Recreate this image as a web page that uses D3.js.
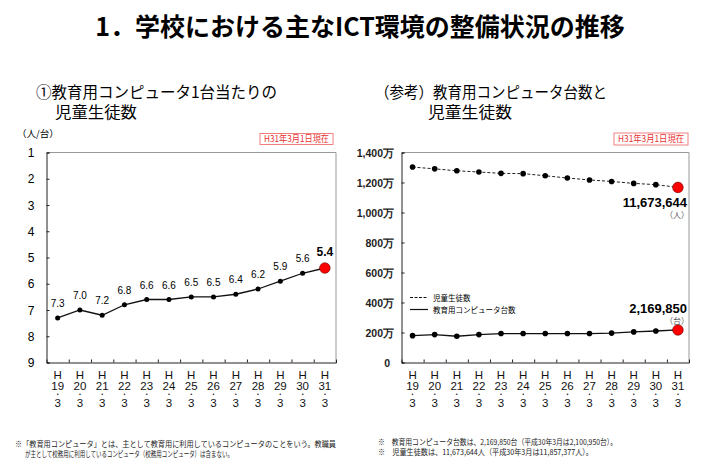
<!DOCTYPE html>
<html><head><meta charset="utf-8">
<script src="https://cdn.jsdelivr.net/npm/d3@7/dist/d3.min.js"></script>
<style>
body{margin:0;background:#fff;}
svg{display:block;}
</style></head>
<body>
<svg id="c" width="720" height="471"></svg>
<script>
const years = ["19","20","21","22","23","24","25","26","27","28","29","30","31"];
const perComputer = [7.3,7.0,7.2,6.8,6.6,6.6,6.5,6.5,6.4,6.2,5.9,5.6,5.4];
const students = [1303,1291,1278,1270,1261,1259,1245,1230,1217,1207,1194,1185.7377,1167.3644]; // 万人
const computers = [179,186,175,186,193,193,193,193,193,196,204,210.095,216.985]; // 万台
const leftTicks = [1,2,3,4,5,6,7,8,9];
const rightTicks = [0,200,400,600,800,1000,1200,1400];

const JP = "'Noto Sans CJK JP', sans-serif";
const NUM = "'Liberation Sans', Arial, sans-serif";
const svg = d3.select("#c");

// Title
svg.append("text").attr("x",360).attr("y",36).attr("text-anchor","middle")
  .attr("font-family",JP).attr("font-weight","bold").attr("font-size",25)
  .text("1．学校における主なICT環境の整備状況の推移");

// Subtitles
function sub(x,y,t,w){svg.append("text").attr("x",x).attr("y",y).attr("font-family",JP).attr("font-size",15.5)
  .attr("textLength",w).attr("lengthAdjust","spacingAndGlyphs").text(t);}
sub(36,98,"①教育用コンピュータ1台当たりの",241);
sub(55,118,"児童生徒数",82);
sub(375,98,"（参考）教育用コンピュータ台数と",232);
sub(428,118,"児童生徒数",84);

// Red date boxes
function dateBox(x,y,w,h){
  svg.append("rect").attr("x",x).attr("y",y).attr("width",w).attr("height",h)
    .attr("fill","#fff").attr("stroke","#f08080").attr("stroke-width",1);
  svg.append("text").attr("x",x+w/2).attr("y",y+h/2+3.3).attr("text-anchor","middle")
    .attr("font-family",JP).attr("font-size",9).attr("fill","#e83030")
    .attr("textLength",w-8).attr("lengthAdjust","spacingAndGlyphs")
    .text("H31年3月1日現在");
}
dateBox(260,133.5,73,11);
dateBox(614,133,74,12);

function xLabels(g,x){
  years.forEach(yr=>{
    const cx = x(yr)+x.bandwidth()/2;
    const t = (y,s,fs)=>g.append("text").attr("x",cx).attr("y",y).attr("text-anchor","middle")
      .attr("font-family",NUM).attr("font-size",fs).attr("fill","#111").text(s);
    t(379,"H",11.5);
    t(390,yr,11.5);
    t(396,"•",5.5);
    t(407,"3",11.5);
  });
}

// ---------- Left chart ----------
const L = {l:46.5,r:336,t:152.5,b:362.5};
const xL = d3.scaleBand().domain(years).range([L.l,L.r]);
const yL = d3.scaleLinear().domain([1,9]).range([L.t,L.b]);
const gL = svg.append("g");
gL.append("line").attr("x1",L.l).attr("x2",L.r).attr("y1",L.t).attr("y2",L.t).attr("stroke","#999");
gL.append("line").attr("x1",L.r).attr("x2",L.r).attr("y1",L.t).attr("y2",L.b).attr("stroke","#999");
gL.append("g").attr("transform",`translate(${L.l},0)`)
  .call(d3.axisRight(yL).tickValues(leftTicks).tickSize(3).tickFormat(""))
  .call(g=>g.select(".domain").attr("stroke","#222"))
  .call(g=>g.selectAll(".tick line").attr("stroke","#222"));
leftTicks.forEach(v=>{
  gL.append("text").attr("x",31).attr("y",yL(v)+4.5).attr("text-anchor","middle")
    .attr("font-family",NUM).attr("font-size",12).text(v);
});
gL.append("g").attr("transform",`translate(0,${L.b})`)
  .call(d3.axisTop(d3.scaleLinear().domain([0,13]).range([L.l,L.r])).tickValues(d3.range(1,13)).tickSize(3).tickFormat(""))
  .call(g=>g.select(".domain").attr("stroke","#222"))
  .call(g=>g.selectAll(".tick line").attr("stroke","#222"));
gL.append("text").attr("x",17).attr("y",137).attr("font-family",JP).attr("font-size",9.5).text("（人/台）");
xLabels(gL,xL);
const cxL = d=>xL(d)+xL.bandwidth()/2;
gL.append("path").datum(perComputer).attr("fill","none").attr("stroke","#111").attr("stroke-width",1.3)
  .attr("d",d3.line().x((d,i)=>cxL(years[i])).y(d=>yL(d)));
perComputer.forEach((v,i)=>{
  const last = i===perComputer.length-1;
  gL.append("circle").attr("cx",cxL(years[i])).attr("cy",yL(v)).attr("r",last?5.3:2.5)
    .attr("fill",last?"#f00":"#000").attr("stroke",last?"#600":"none").attr("stroke-width",0.6);
  gL.append("text").attr("x",cxL(years[i])).attr("y",yL(v)-(last?12:11)).attr("text-anchor","middle")
    .attr("font-family",NUM).attr("font-size",last?12:10).attr("font-weight",last?"bold":"normal")
    .text(v.toFixed(1));
});

// ---------- Right chart ----------
const R = {l:401.5,r:689,t:152.5,b:362.5};
const xR = d3.scaleBand().domain(years).range([R.l,R.r]);
const yR = d3.scaleLinear().domain([0,1400]).range([R.b,R.t]);
const gR = svg.append("g");
gR.append("line").attr("x1",R.l).attr("x2",R.r).attr("y1",R.t).attr("y2",R.t).attr("stroke","#999");
gR.append("line").attr("x1",R.r).attr("x2",R.r).attr("y1",R.t).attr("y2",R.b).attr("stroke","#999");
gR.append("g").attr("transform",`translate(${R.l},0)`)
  .call(d3.axisRight(yR).tickValues(rightTicks).tickSize(3).tickFormat(""))
  .call(g=>g.select(".domain").attr("stroke","#222"))
  .call(g=>g.selectAll(".tick line").attr("stroke","#222"));
rightTicks.forEach(v=>{
  gR.append("text").attr("x",v===0?390:394).attr("y",yR(v)+4).attr("text-anchor","end")
    .attr("font-family",NUM).attr("font-size",10.5).attr("font-weight","bold").attr("fill","#222")
    .text(v===0?"0":d3.format(",")(v)+"万");
});
gR.append("g").attr("transform",`translate(0,${R.b})`)
  .call(d3.axisTop(d3.scaleLinear().domain([0,13]).range([R.l,R.r])).tickValues(d3.range(1,13)).tickSize(3).tickFormat(""))
  .call(g=>g.select(".domain").attr("stroke","#222"))
  .call(g=>g.selectAll(".tick line").attr("stroke","#222"));
xLabels(gR,xR);
const cxR = d=>xR(d)+xR.bandwidth()/2;
gR.append("path").datum(students).attr("fill","none").attr("stroke","#222").attr("stroke-width",1)
  .attr("stroke-dasharray","3,2")
  .attr("d",d3.line().x((d,i)=>cxR(years[i])).y(d=>yR(d)));
gR.append("path").datum(computers).attr("fill","none").attr("stroke","#111").attr("stroke-width",1.3)
  .attr("d",d3.line().x((d,i)=>cxR(years[i])).y(d=>yR(d)));
[students,computers].forEach(s=>{
  s.forEach((v,i)=>{
    const last = i===s.length-1;
    gR.append("circle").attr("cx",cxR(years[i])).attr("cy",yR(v)).attr("r",last?5.3:2.8)
      .attr("fill",last?"#f00":"#000").attr("stroke",last?"#600":"none").attr("stroke-width",0.6);
  });
});
// annotations
gR.append("text").attr("x",687).attr("y",207).attr("text-anchor","end").attr("font-family",NUM)
  .attr("font-size",13).attr("font-weight","bold").text("11,673,644");
gR.append("text").attr("x",689).attr("y",218).attr("text-anchor","end").attr("font-family",JP)
  .attr("font-size",8).attr("fill","#555").text("（人）");
gR.append("text").attr("x",687).attr("y",313).attr("text-anchor","end").attr("font-family",NUM)
  .attr("font-size",13).attr("font-weight","bold").text("2,169,850");
gR.append("text").attr("x",689).attr("y",324).attr("text-anchor","end").attr("font-family",JP)
  .attr("font-size",8).attr("fill","#555").text("（台）");
// legend
gR.append("line").attr("x1",410).attr("x2",428).attr("y1",297.5).attr("y2",297.5).attr("stroke","#111").attr("stroke-width",1.2).attr("stroke-dasharray","3,1.5");
gR.append("text").attr("x",433).attr("y",300.5).attr("font-family",JP).attr("font-size",7.5).text("児童生徒数");
gR.append("line").attr("x1",410).attr("x2",428).attr("y1",309.5).attr("y2",309.5).attr("stroke","#111").attr("stroke-width",1.2);
gR.append("text").attr("x",433).attr("y",312.5).attr("font-family",JP).attr("font-size",7.5).text("教育用コンピュータ台数");

// Footnotes
function note(x,y,t,w){svg.append("text").attr("x",x).attr("y",y).attr("font-family",JP).attr("font-size",8).attr("fill","#222")
  .attr("textLength",w).attr("lengthAdjust","spacingAndGlyphs").text(t);}
note(15,447,"※「教育用コンピュータ」とは、主として教育用に利用しているコンピュータのことをいう。教職員",321);
note(25,456.5,"が主として校務用に利用しているコンピュータ（校務用コンピュータ）は含まない。",208);
note(378,445,"※　教育用コンピュータ台数は、2,169,850台（平成30年3月は2,100,950台）。",239);
note(378,454.5,"※　児童生徒数は、11,673,644人（平成30年3月は11,857,377人）。",215);
</script>
</body></html>
